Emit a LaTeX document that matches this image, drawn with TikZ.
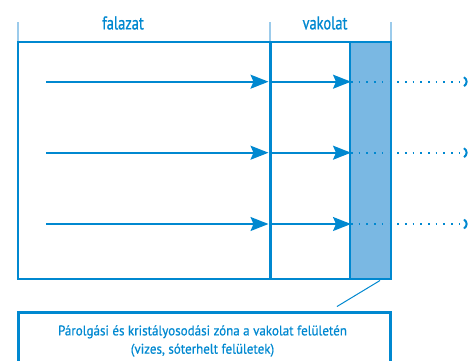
\documentclass[tikz,border=0pt]{standalone}
\usepackage{fontspec}
\setmainfont{PT Sans}
\newfontfamily\condfont[FakeStretch=0.78,FakeBold=0.8]{PT Sans}
\newfontfamily\condfontb[FakeStretch=0.93,FakeBold=0.6]{PT Sans}
\usetikzlibrary{arrows.meta}
\definecolor{mblue}{RGB}{0,136,208}
\definecolor{fblue}{RGB}{122,184,227}
\definecolor{lblue}{RGB}{156,203,235}
\tikzset{
  flow/.style={mblue,line width=1.6pt,-{Stealth[length=18pt,width=14pt,inset=3pt]}},
  dotflow/.style={mblue,line width=1.6pt,dash pattern=on 1.6pt off 6.1pt},
  tick/.style={lblue,line width=1.2pt},
  lab/.style={text=mblue,font=\condfont\fontsize{18.5}{20}\selectfont,inner sep=0pt},
  boxtxt/.style={text=mblue,font=\condfontb\fontsize{14}{18.3}\selectfont,align=center,inner sep=0pt}
}
\begin{document}
\begin{tikzpicture}[x=1pt,y=-1pt]
\useasboundingbox (0,0) rectangle (468,360);
\begin{scope}
\clip (0,0) rectangle (468,360);
% ticks
\draw[tick] (18,22) -- (18,42);
\draw[tick] (270,22) -- (270,42);
\draw[tick] (391,22) -- (391,42);
% labels
\node[lab] (falazat) at (123,23) {falazat};
\node[lab] (vakolat) at (325,23) {vakolat};
% zone
\node[draw=mblue,fill=fblue,line width=1.6pt,minimum width=41pt,minimum height=237pt,inner sep=0pt] (zone) at (370.5,160.5) {};
% main rectangle
\node[draw=mblue,line width=2pt,minimum width=373pt,minimum height=237pt,inner sep=0pt] (wall) at (204.5,160.5) {};
% interface line
\draw[mblue,line width=3pt] (wall.north west -| 270,0) -- (wall.south west -| 270,0);
% arrows
\foreach \y/\n in {81.7/a,152.7/b,224/c}{
  \coordinate (s\n) at (46,\y);
  \coordinate (m\n) at (268.5,\y);
  \coordinate (k\n) at (271.5,\y);
  \coordinate (z\n) at (351,\y);
  \draw[flow] (s\n) -- (m\n);
  \draw[flow] (k\n) -- (z\n);
  \draw[dotflow] (z\n) -- (462,\y);
  \draw[mblue,line width=2pt] (464,\y-4.5) .. controls (467.5,\y-2) and (467.5,\y+2) .. (464,\y+4.5);
}
% bottom box
\node[draw=mblue,line width=2.6pt,minimum width=372pt,minimum height=70pt,inner sep=0pt,anchor=north west] (box) at (17,311) {};
\node[boxtxt] (boxtext) at (202.5,341) {Párolgási és kristályosodási zóna a vakolat felületén\\(vizes, sóterhelt felületek)};
\coordinate (leadA) at (380,280.5);
\coordinate (leadB) at (337,306.5);
\draw[mblue,line width=1pt] (leadA) -- (leadB);
\end{scope}
\end{tikzpicture}
\end{document}
